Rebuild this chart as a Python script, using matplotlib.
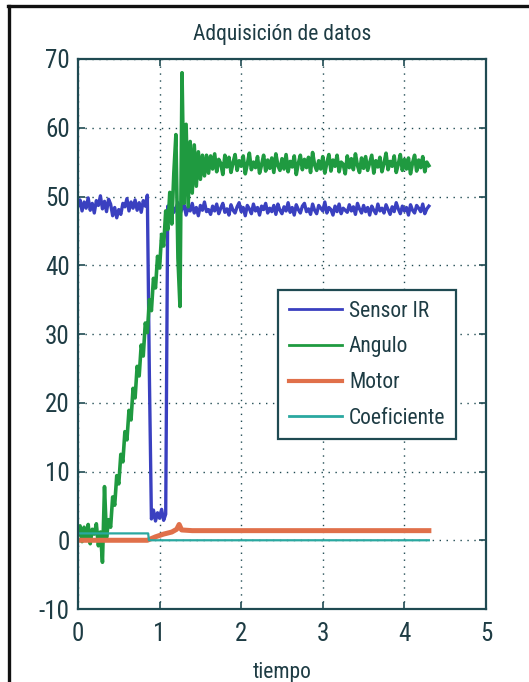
import numpy as np
import matplotlib
matplotlib.use("Agg")
import matplotlib.pyplot as plt
from matplotlib.lines import Line2D

plt.rcParams['font.family'] = ['DejaVu Sans Condensed', 'Liberation Sans Narrow',
                               'Roboto Condensed', 'Liberation Sans', 'DejaVu Sans']
plt.rcParams['font.stretch'] = 'condensed'
plt.rcParams['axes.unicode_minus'] = False

# muestreo de la adquisicion (s)
paso = 0.025
tiempo = np.arange(173) * paso

sensor_ir = [
    # antes del salto
    48.6, 49.5, 47.9, 49.2, 48.3, 49.8, 48.0, 49.0, 47.6, 49.4,
    48.7, 50.1, 48.2, 49.3, 47.8, 49.6, 48.9, 47.2, 48.4, 46.9,
    48.1, 47.4, 49.0, 48.5, 49.7, 47.9, 49.2, 48.3, 49.5, 48.0,
    49.1, 47.7, 49.4, 48.6, 50.2,
    # caida
    24.0, 3.1, 4.4, 2.8, 4.0, 3.2, 4.5, 2.9, 3.8,
    # despues
    48.6, 47.4, 48.9, 47.7, 48.3, 49.1, 47.5, 48.2, 48.8, 47.3,
    48.5, 47.9, 49.0, 47.6, 48.4, 47.2, 48.7, 48.0, 49.2, 47.8,
    48.1, 47.4, 48.6, 47.9, 48.9, 47.5, 48.3, 49.0, 47.7, 48.2,
    47.3, 48.8, 48.0, 47.6, 48.5, 49.1, 47.8, 48.4, 47.2, 48.7,
    48.2, 47.5, 48.9, 47.9, 48.4, 47.3, 48.6, 48.1, 49.0, 47.6,
    48.3, 47.8, 48.7, 47.4, 48.9, 48.0, 47.5, 48.5, 47.9, 49.1,
    47.7, 48.4, 47.3, 48.8, 48.1, 47.6, 48.6, 49.0, 47.8, 48.2,
    47.4, 48.9, 48.0, 47.5, 48.7, 48.3, 47.9, 49.2, 47.6, 48.4,
    48.1, 47.3, 48.6, 47.8, 48.9, 47.5, 48.3, 48.0, 47.7, 48.8,
    47.9, 48.5, 47.4, 49.0, 48.2, 47.6, 48.7, 47.8, 48.4, 47.3,
    48.6, 48.0, 47.5, 48.9, 47.9, 48.3, 47.6, 48.8, 48.1, 47.4,
    48.5, 47.8, 49.1, 48.2, 47.5, 48.6, 47.9, 48.4, 47.3, 48.8,
    48.0, 47.6, 48.7, 48.3, 47.8, 48.9, 47.5, 48.2, 48.6,
]

angulo = [
    # reposo
    0.8, 2.1, -0.2, 1.9, 0.4, 2.3, -0.5, 1.6, 0.9, 2.4,
    -0.8, 1.2, -3.2, 7.8,
    # subida
    0.4, 3.0, 1.9, 6.3, 5.1, 9.4, 8.2, 12.5, 11.4, 15.8,
    14.6, 18.9, 17.5, 22.1, 20.7, 25.3, 23.9, 28.4, 26.8, 31.6,
    30.2, 35.0, 33.4, 38.1, 36.7, 41.3, 39.6, 44.5, 42.8, 47.9,
    45.2, 50.6,
    # oscilacion
    46.0, 53.5, 59.0, 41.0, 34.0, 68.0, 49.0, 60.5, 48.5, 58.0,
    50.5, 57.5, 51.5, 56.5, 52.5, 56.0, 53.0, 56.0,
    # estable
    53.4, 55.9, 54.0, 56.2, 53.6, 55.4, 54.8, 53.2, 56.0, 54.3,
    55.7, 53.5, 54.9, 56.1, 53.8, 55.2, 54.4, 55.9, 53.3, 54.7,
    56.3, 53.9, 55.0, 54.2, 55.8, 53.4, 54.6, 56.0, 53.7, 55.3,
    54.1, 55.6, 53.5, 56.2, 54.5, 53.8, 55.5, 54.0, 56.1, 53.6,
    55.1, 54.3, 55.9, 53.2, 54.8, 56.0, 53.9, 55.4, 54.2, 55.7,
    53.5, 56.4, 54.6, 53.8, 55.2, 54.0, 55.8, 53.4, 54.9, 56.1,
    53.7, 55.3, 54.4, 56.0, 53.6, 55.0, 54.7, 53.3, 55.9, 54.2,
    55.5, 53.9, 56.2, 54.5, 53.5, 55.6, 54.1, 55.8, 53.8, 54.9,
    56.0, 53.4, 55.2, 54.3, 55.7, 53.6, 54.8, 56.3, 53.9, 55.1,
    54.4, 55.9, 53.5, 54.7, 56.1, 53.8, 55.4, 54.0, 55.6, 53.3,
    54.9, 56.0, 53.7, 55.3, 54.2, 55.8, 53.6, 55.0, 54.5,
]

motor_t = [0.0, 0.85, 0.95, 1.05, 1.15, 1.21, 1.24, 1.27, 1.4, 4.3]
motor = [0.0, 0.0, 0.5, 0.9, 1.2, 1.6, 2.3, 1.5, 1.4, 1.4]

coef_t = [0.0, 0.86, 0.87, 4.3]
coeficiente = [1.0, 1.0, 0.0, 0.0]

etiquetas = ['Sensor IR', 'Angulo', 'Motor', 'Coeficiente']
colores = ['#3a40c0', '#1f9a40', '#e0704a', '#2aa8a0']
oscuro = '#1f4a52'
texto = '#1e3c44'

fig = plt.figure(figsize=(5.29, 6.82), dpi=100)
ax = fig.add_axes([0.1474, 0.1070, 0.7713, 0.8065])

ax.plot(tiempo, sensor_ir, color=colores[0], lw=2.4, label=etiquetas[0])
ax.plot(tiempo, angulo, color=colores[1], lw=2.6, label=etiquetas[1])
ax.plot(motor_t, motor, color=colores[2], lw=3.6, label=etiquetas[2])
ax.plot(coef_t, coeficiente, color=colores[3], lw=1.6, label=etiquetas[3])

ax.set_xlim(0, 5)
ax.set_ylim(-10, 70)
ax.set_xticks(range(0, 6))
ax.set_yticks(range(-10, 71, 10))
ax.grid(True, color=oscuro, linestyle=(0, (1, 4)), linewidth=1.0)
ax.tick_params(direction='in', top=True, right=True, length=5, width=1.2,
               colors=oscuro, labelsize=18, labelcolor=texto)
ax.tick_params(axis='x', pad=9)
ax.tick_params(axis='y', pad=6)
for s in ax.spines.values():
    s.set_color(oscuro)
    s.set_linewidth(1.6)

ax.set_title('Adquisición de datos', fontsize=15.5, color=texto, pad=14)
ax.set_xlabel('tiempo', fontsize=15.5, color=texto, labelpad=12)

leg = ax.legend(loc='upper left', bbox_to_anchor=(0.49, 0.58), borderaxespad=0,
                fontsize=15.5, handlelength=2.5, handletextpad=0.3, labelspacing=0.68,
                borderpad=0.5, fancybox=False, framealpha=1, edgecolor=oscuro,
                labelcolor=texto)
leg.get_frame().set_linewidth(1.6)
for linea in leg.get_lines():
    linea.set_linewidth(2.0 if linea.get_label() != 'Motor' else 3.0)

# marco exterior de la captura
fig.add_artist(Line2D([8 / 529, 1], [1 - 6 / 682, 1 - 6 / 682], color='#111111', lw=2.4))
fig.add_artist(Line2D([9 / 529, 9 / 529], [0, 1 - 6 / 682], color='#111111', lw=2.4))

fig.savefig('out.png', dpi=100)
